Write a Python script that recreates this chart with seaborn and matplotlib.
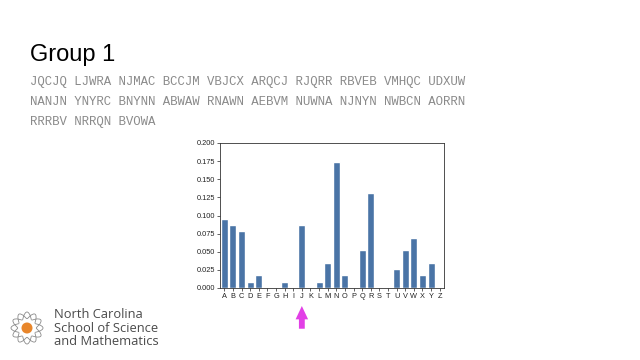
import matplotlib
matplotlib.use("Agg")
import matplotlib.pyplot as plt
import seaborn as sns
import pandas as pd
from matplotlib.patches import Circle, Ellipse

# letter frequencies
letters = list("ABCDEFGHIJKLMNOPQRSTUVWXYZ")
freqs = [0.0957, 0.0870, 0.0783, 0.0087, 0.0174, 0.0, 0.0, 0.0087, 0.0, 0.0870,
         0.0, 0.0087, 0.0348, 0.1739, 0.0174, 0.0, 0.0522, 0.1304, 0.0, 0.0,
         0.0261, 0.0522, 0.0696, 0.0174, 0.0348, 0.0]
yticks = [0.000, 0.025, 0.050, 0.075, 0.100, 0.125, 0.150, 0.175, 0.200]

cipher_lines = [
    "JQCJQ LJWRA NJMAC BCCJM VBJCX ARQCJ RJQRR RBVEB VMHQC UDXUW",
    "NANJN YNYRC BNYNN ABWAW RNAWN AEBVM NUWNA NJNYN NWBCN AORRN",
    "RRRBV NRRQN BVOWA",
]
title = "Group 1"
school_lines = ["North Carolina", "School of Science", "and Mathematics"]

sns.set_theme(style="ticks")
plt.rcParams['font.family'] = ['Liberation Sans', 'DejaVu Sans']

fig = plt.figure(figsize=(6.4, 3.6), dpi=100)
fig.patch.set_facecolor("white")

# slide title and ciphertext
fig.text(30 / 640, 1 - 61 / 360, title, fontsize=17, color="black",
         family="Liberation Sans")
for i, line in enumerate(cipher_lines):
    fig.text(30 / 640, 1 - (85 + i * 20) / 360, line, fontsize=8.9,
             color="#8a8a8a", family="Liberation Mono")

# bar chart
df = pd.DataFrame({"letter": letters, "freq": freqs})
ax = fig.add_axes([220 / 640, 72 / 360, 224 / 640, 145 / 360])
sns.barplot(data=df, x="letter", y="freq", color="#4a74a6", saturation=1,
            width=0.8, ax=ax)
ax.set_ylim(0, 0.2)
ax.set_yticks(yticks)
ax.set_yticklabels([f"{v:.3f}" for v in yticks])
ax.set_xlabel("")
ax.set_ylabel("")
ax.tick_params(axis="both", labelsize=5.3, length=2, width=0.5, pad=1.5,
               colors="#222222")
for s in ax.spines.values():
    s.set_visible(True)
    s.set_linewidth(0.6)
    s.set_color("#333333")

# magenta arrow pointing at J
ax.annotate("", xy=(9, -0.105), xytext=(9, -0.30),
            xycoords=ax.get_xaxis_transform(), textcoords=ax.get_xaxis_transform(),
            annotation_clip=False,
            arrowprops=dict(arrowstyle="simple,head_length=0.8,head_width=0.75,tail_width=0.35",
                            color="#e23fe6", lw=0))

# school logo
lax = fig.add_axes([0, 0, 1, 1], facecolor="none")
lax.set_xlim(0, 640)
lax.set_ylim(360, 0)
lax.axis("off")
cx, cy = 27, 328
for ang in range(0, 180, 30):
    lax.add_patch(Ellipse((cx, cy), 32, 10, angle=ang, fill=False,
                          edgecolor="#8a8a8a", lw=0.6))
lax.add_patch(Circle((cx, cy), 9, facecolor="white", edgecolor="none"))
lax.add_patch(Circle((cx, cy), 5.5, facecolor="#e8862b", edgecolor="none"))
for i, line in enumerate(school_lines):
    lax.text(54, 318 + i * 13.5, line, fontsize=9.3, color="#4a4a4a",
             family="Open Sans", va="baseline")

fig.savefig("out.png", dpi=100)
